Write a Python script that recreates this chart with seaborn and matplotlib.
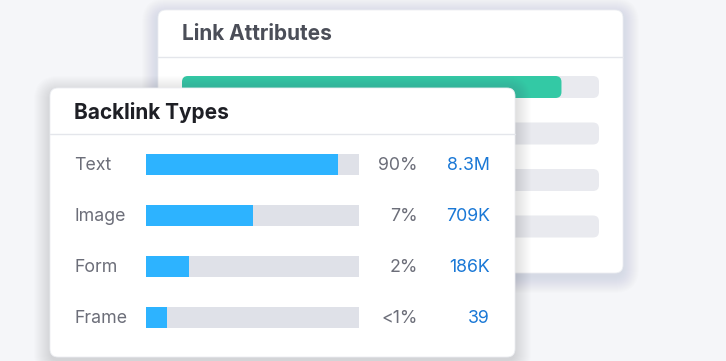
import matplotlib
matplotlib.use("Agg")
import matplotlib.pyplot as plt
import seaborn as sns
import pandas as pd
from matplotlib.patches import FancyBboxPatch
from matplotlib.transforms import blended_transform_factory

# ---------------- data ----------------
back_title = "Link Attributes"
back_rows = ["r1", "r2", "r3", "r4"]
back_fill = [0.91, 0.0, 0.0, 0.0]

front_title = "Backlink Types"
categories = ["Text", "Image", "Form", "Frame"]
bar_fill = [0.90, 0.50, 0.20, 0.10]
pct_labels = ["90%", "7%", "2%", "<1%"]
value_labels = ["8.3M", "709K", "186K", "39"]

# ---------------- style ----------------
sns.set_theme(style="white")
plt.rcParams["font.family"] = ["Inter", "DejaVu Sans"]

W, H = 726, 361
fig = plt.figure(figsize=(W / 100, H / 100), dpi=100)
fig.patch.set_facecolor("#f5f6f9")


def px_axes(x0, y0, x1, y1, z):
    a = fig.add_axes([x0 / W, 1 - y1 / H, (x1 - x0) / W, (y1 - y0) / H], zorder=z)
    a.set_facecolor("none")
    return a


def overlay(z):
    a = fig.add_axes([0, 0, 1, 1], zorder=z)
    a.set_xlim(0, W)
    a.set_ylim(H, 0)
    a.axis("off")
    a.set_facecolor("none")
    return a


def card(a, x0, y0, x1, y1, shadow_alpha=0.008):
    for k in range(1, 18):
        a.add_patch(FancyBboxPatch((x0 - k + 1, y0 - k + 5), (x1 - x0) + 2 * k - 2, (y1 - y0) + 2 * k - 2,
                                   boxstyle=f"round,pad=0,rounding_size={8 + k}",
                                   fc="#5a6275", ec="none", alpha=shadow_alpha))
    a.add_patch(FancyBboxPatch((x0, y0), x1 - x0, y1 - y0,
                               boxstyle="round,pad=0,rounding_size=8",
                               fc="white", ec="#eceef2", lw=0.6))


def round_bars(a, r_px, px_per_x, px_per_y):
    for p in list(a.patches):
        x, y, w, h = p.get_x(), p.get_y(), p.get_width(), p.get_height()
        fc = p.get_facecolor()
        p.remove()
        if w <= 0:
            continue
        a.add_patch(FancyBboxPatch((x, y), w, h,
                                   boxstyle=f"round,pad=0,rounding_size={r_px / px_per_x}",
                                   mutation_aspect=px_per_x / px_per_y,
                                   fc=fc, ec="none"))


# ---------------- back card ----------------
bg = overlay(0)
card(bg, 158, 10, 623, 273)
bg.plot([158, 623], [57, 57], color="#e4e6eb", lw=1)
bg.text(182, 34.5, back_title, ha="left", va="center", fontsize=15,
        weight="bold", color="#4b4e58")

bx0, bx1 = 182, 599
b_step = 46.5
b_top = 87 - b_step / 2
b_bot = 226.5 + b_step / 2
axb = px_axes(bx0, b_top, bx1, b_bot, 1)
back_df = pd.DataFrame({"row": back_rows, "track": [1.0] * 4, "fill": back_fill})
sns.barplot(data=back_df, x="track", y="row", color="#e9eaef", width=22 / b_step,
            errorbar=None, ax=axb, orient="h", saturation=1, linewidth=0)
sns.barplot(data=back_df, x="fill", y="row", color="#33c9a5", width=22 / b_step,
            errorbar=None, ax=axb, orient="h", saturation=1, linewidth=0)
axb.set_xlim(0, 1)
axb.set_ylim(3.5, -0.5)
round_bars(axb, 6, bx1 - bx0, b_step)
axb.axis("off")

# ---------------- front card ----------------
fc_ax = overlay(2)
card(fc_ax, 50, 88, 515, 357, shadow_alpha=0.012)
fc_ax.plot([50, 515], [134, 134], color="#e4e6eb", lw=1)
fc_ax.text(74.5, 112.5, front_title, ha="left", va="center", fontsize=15,
           weight="bold", color="#1e1f25")

fx0, fx1 = 146, 359
f_step = 51
f_top = 164.5 - f_step / 2
f_bot = 317.5 + f_step / 2
ax = px_axes(fx0, f_top, fx1, f_bot, 3)
front_df = pd.DataFrame({"cat": categories, "track": [1.0] * 4, "fill": bar_fill})
sns.barplot(data=front_df, x="track", y="cat", color="#dfe1e8", width=21 / f_step,
            errorbar=None, ax=ax, orient="h", saturation=1, linewidth=0)
sns.barplot(data=front_df, x="fill", y="cat", color="#2db3ff", width=21 / f_step,
            errorbar=None, ax=ax, orient="h", saturation=1, linewidth=0)
ax.set_xlim(0, 1)
ax.set_ylim(3.5, -0.5)
ax.axis("off")

tr = blended_transform_factory(fc_ax.transData, ax.transData)
for i, (c, p, v) in enumerate(zip(categories, pct_labels, value_labels)):
    ax.text(74.5, i + 0.02, c, transform=tr, ha="left", va="center", fontsize=12.8,
            color="#6c6e79", clip_on=False)
    ax.text(417.7, i + 0.02, p, transform=tr, ha="right", va="center", fontsize=12.8,
            color="#6c6e79", clip_on=False)
    ax.text(490, i + 0.02, v, transform=tr, ha="right", va="center", fontsize=12.8,
            color="#1a78d6", clip_on=False)

fig.savefig("out.png", dpi=100, facecolor=fig.get_facecolor())
